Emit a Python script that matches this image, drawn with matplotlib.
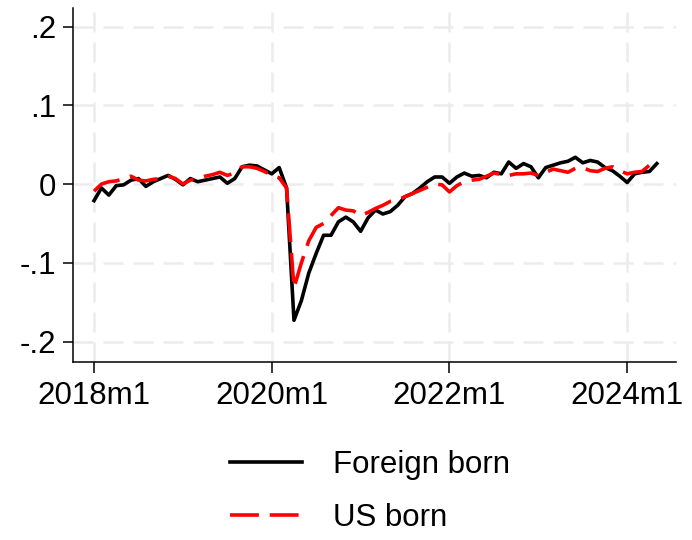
import matplotlib
matplotlib.use("Agg")
import matplotlib.pyplot as plt
import numpy as np

plt.rcParams['font.family'] = ['Liberation Sans', 'DejaVu Sans']

# monthly series starting 2018m1 (index 0) through 2024m5
foreign_born = [
    -0.021, -0.005, -0.014, -0.002, -0.001, 0.005, 0.007, -0.003, 0.003, 0.007, 0.011, 0.006,   # 2018
    -0.001, 0.007, 0.003, 0.005, 0.007, 0.009, 0.001, 0.007, 0.022, 0.024, 0.023, 0.018,      # 2019
    0.013, 0.021, -0.005, -0.173, -0.148, -0.113, -0.088, -0.065, -0.065, -0.048, -0.042, -0.048,  # 2020
    -0.060, -0.043, -0.033, -0.038, -0.035, -0.027, -0.016, -0.012, -0.005, 0.003, 0.009, 0.009,   # 2021
    0.001, 0.009, 0.014, 0.010, 0.011, 0.008, 0.015, 0.013, 0.028, 0.020, 0.026, 0.022,        # 2022
    0.008, 0.021, 0.024, 0.027, 0.029, 0.034, 0.027, 0.030, 0.028, 0.021, 0.017, 0.010,        # 2023
    0.002, 0.013, 0.015, 0.016, 0.026,                                                        # 2024
]
us_born = [
    -0.009, 0.000, 0.003, 0.004, 0.007, 0.010, 0.005, 0.004, 0.006, 0.007, 0.010, 0.007,
    0.000, 0.005, 0.007, 0.010, 0.012, 0.015, 0.011, 0.014, 0.022, 0.022, 0.020, 0.016,
    0.011, 0.008, -0.005, -0.132, -0.100, -0.072, -0.055, -0.050, -0.040, -0.030, -0.033, -0.034,
    -0.040, -0.036, -0.031, -0.027, -0.022, -0.020, -0.016, -0.012, -0.008, -0.004, 0.000, -0.001,
    -0.010, -0.002, 0.003, 0.005, 0.006, 0.010, 0.014, 0.012, 0.011, 0.013, 0.013, 0.014,
    0.011, 0.015, 0.019, 0.017, 0.015, 0.020, 0.021, 0.017, 0.016, 0.020, 0.022, 0.017,
    0.013, 0.015, 0.016, 0.024, 0.018,
]
month = np.arange(len(foreign_born))

xticks = [0, 24, 48, 72]
xticklabels = ['2018m1', '2020m1', '2022m1', '2024m1']
yticks = [-0.2, -0.1, 0, 0.1, 0.2]
yticklabels = ['-.2', '-.1', '0', '.1', '.2']

fig = plt.figure(figsize=(6.92, 5.40), dpi=100)
ax = fig.add_axes([0.1055, 0.3296, 0.8715, 0.6554])

ax.plot(month, foreign_born, color='black', lw=2.6, label='Foreign born')
ax.plot(month, us_born, color='red', lw=2.6, dashes=(8, 3), label='US born')

ax.set_xlim(-2.84, 78.6)
ax.set_ylim(-0.226, 0.2235)
ax.set_xticks(xticks)
ax.set_xticklabels(xticklabels)
ax.set_yticks(yticks)
ax.set_yticklabels(yticklabels)

ax.grid(True, color='#ececec', lw=1.8, dashes=(8, 4))
ax.set_axisbelow(True)
for side in ['top', 'right']:
    ax.spines[side].set_visible(False)
for side in ['left', 'bottom']:
    ax.spines[side].set_linewidth(1.1)
ax.tick_params(axis='both', labelsize=22.5, width=1.1, length=7, pad=5)
ax.tick_params(axis='x', length=8, pad=6)

fig.legend(loc='center', bbox_to_anchor=(0.535, 0.0905), frameon=False,
           fontsize=22.5, handlelength=2.3, handletextpad=1.0, labelspacing=0.74,
           borderpad=0)

fig.savefig('out.png', dpi=100)
